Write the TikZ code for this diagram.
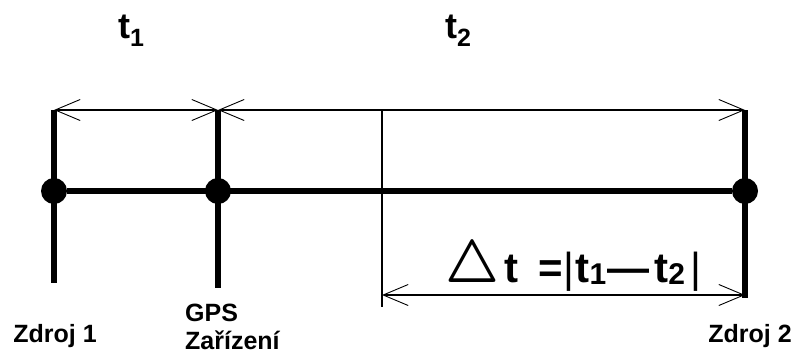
\documentclass[tikz,border=0pt]{standalone}
\usepackage{fontspec}
\usepackage{graphicx}
\setmainfont{Liberation Sans}
\usetikzlibrary{arrows.meta, positioning}
\tikzset{
  station/.style={circle, fill=black, inner sep=0pt, minimum size=26pt},
  postline/.style={line width=6pt},
  mainline/.style={line width=5.5pt},
  guideline/.style={line width=1.4pt},
  dimline/.style={line width=1.6pt, {Straight Barb[length=25pt, width=21pt, line width=0.9pt]}-{Straight Barb[length=25pt, width=21pt, line width=0.9pt]}},
  timelabel/.style={font=\bfseries\fontsize{36}{40}\selectfont, inner sep=0pt, anchor=base},
  placelabel/.style={font=\bfseries\fontsize{25}{28}\selectfont, inner sep=0pt},
}
\newcommand{\sublow}[2][-0.24em]{\raisebox{#1}{\fontsize{25}{30}\selectfont #2}}
\newcommand{\subflat}[1]{\raisebox{-2pt}{\fontsize{30}{34}\selectfont #1}}

\begin{document}
\begin{tikzpicture}[x=1pt, y=-1pt]
  \useasboundingbox (0,0) rectangle (799,356);

  % stations on the line
  \node[station] (src1) at (54,191) {};
  \node[station] (gps)  at (218,191) {};
  \node[station] (src2) at (745,191) {};

  % top and bottom ends of the posts
  \coordinate (src1top) at (54,110);
  \coordinate (gpstop)  at (218,110);
  \coordinate (src2top) at (745,110);
  \coordinate (src1bot) at (54,283);
  \coordinate (gpsbot)  at (218,288);
  \coordinate (src2bot) at (745,298);
  \coordinate (midtop)  at (382,110);
  \coordinate (midbot)  at (382,307);
  \coordinate (difL)    at (382,295);
  \coordinate (difR)    at (745,295);

  % posts
  \draw[postline] (src1top) -- (src1bot);
  \draw[postline] (gpstop) -- (gpsbot);
  \draw[postline] (src2top) -- (src2bot);
  \draw[mainline] (src1) -- (src2);
  \draw[guideline] (midtop) -- (midbot);

  % time spans
  \draw[dimline] (src1top) -- (gpstop);
  \draw[dimline] (gpstop) -- (src2top);
  \draw[dimline] (difL) -- (difR);

  % labels
  \node[timelabel] (t1) at (131,38) {t\sublow{1}};
  \node[timelabel] (t2) at (458,38) {t\sublow{2}};
  \node[timelabel, anchor=base west, font=\bfseries\fontsize{42}{46}\selectfont]
    (dt) at (445,282)
    {\resizebox{54pt}{42pt}{\boldmath$\triangle$}\hspace{5pt}t\hspace{20pt}=\hspace{1pt}\textmd{|}\hspace{1pt}t\subflat{1}\hspace{1pt}—\hspace{5pt}t\subflat{2}\hspace{6pt}\textmd{|}};

  \node[placelabel, anchor=base] (lab1) at (55,342) {Zdroj 1};
  \node[placelabel, anchor=north west, align=left] (lab2) at (185,304)
    {GPS\\Zařízení};
  \node[placelabel, anchor=base] (lab3) at (750,342) {Zdroj 2};
\end{tikzpicture}
\end{document}
